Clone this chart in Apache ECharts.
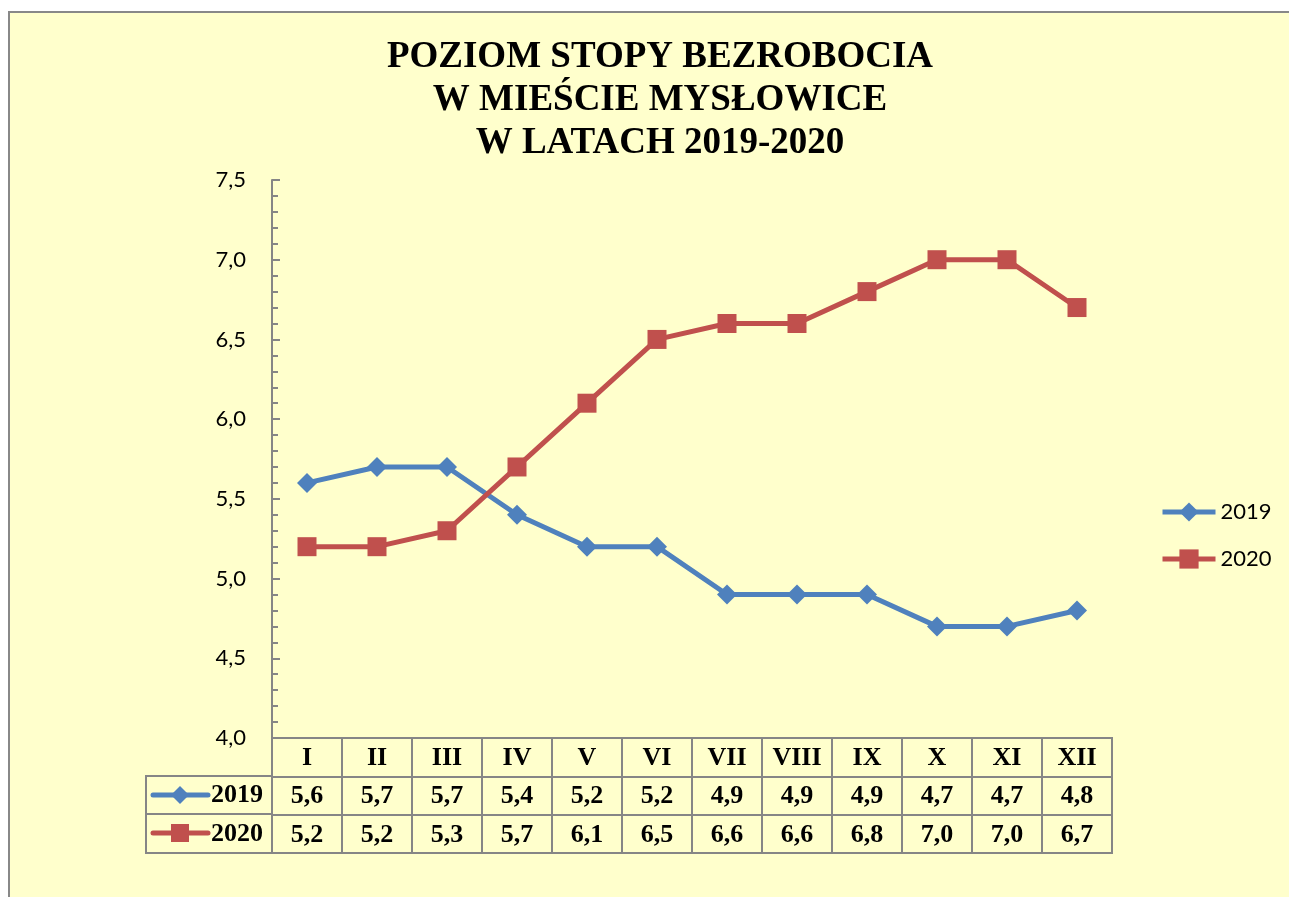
<!DOCTYPE html>
<html>
<head>
<meta charset="utf-8">
<script src="https://cdn.jsdelivr.net/npm/echarts@6/dist/echarts.min.js"></script>
<style>
html,body{margin:0;padding:0;background:#fff;width:1289px;height:897px;overflow:hidden;}
#bg{position:absolute;left:8px;top:11px;width:1300px;height:900px;background:#FFFFCC;border-left:2px solid #888;border-top:2px solid #888;}
#chart{position:absolute;left:0;top:0;width:1289px;height:897px;}
</style>
</head>
<body>
<div id="bg"></div>
<div id="chart"></div>
<script>
const months = ['I','II','III','IV','V','VI','VII','VIII','IX','X','XI','XII'];
const values2019 = [5.6,5.7,5.7,5.4,5.2,5.2,4.9,4.9,4.9,4.7,4.7,4.8];
const values2020 = [5.2,5.2,5.3,5.7,6.1,6.5,6.6,6.6,6.8,7.0,7.0,6.7];
const seriesNames = ['2019','2020'];
const titleText = 'POZIOM STOPY BEZROBOCIA\nW MIEŚCIE MYSŁOWICE\nW LATACH 2019-2020';

const BLUE = '#4F81BD', RED = '#C0504D', GRAY = '#868686';
const SERIF = 'Liberation Serif';
const fmt = v => v.toFixed(1).replace('.', ',');

const tableData = [];
months.forEach((m, i) => {
  tableData.push([i, 0, m]);
  tableData.push([i, 1, fmt(values2019[i])]);
  tableData.push([i, 2, fmt(values2020[i])]);
});

const chart = echarts.init(document.getElementById('chart'), null, {renderer:'canvas'});
chart.setOption({
  backgroundColor: 'transparent',
  animation: false,
  title: {
    text: titleText,
    left: 655, textAlign: 'center', top: 31,
    textStyle: {fontFamily: SERIF, fontWeight: 'bold', fontSize: 37, lineHeight: 43, color: '#000'}
  },
  legend: {
    orient: 'vertical', left: 1160, top: 501, padding: 0,
    itemWidth: 53, itemHeight: 24, itemGap: 25,
    lineStyle: {width: 5},
    textStyle: {fontFamily: 'Lato', fontSize: 22, color: '#000'},
    data: seriesNames
  },
  grid: [
    {left: 272, top: 180, width: 840, height: 558, containLabel: false},
    {left: 272, top: 738, width: 840, height: 115, show: true, borderColor: GRAY, borderWidth: 2, backgroundColor: 'transparent'}
  ],
  xAxis: [
    {type: 'category', gridIndex: 0, data: months, boundaryGap: true,
     axisLine: {show: true, lineStyle: {color: GRAY, width: 2}},
     axisTick: {show: false}, axisLabel: {show: false}, splitLine: {show: false}},
    {type: 'category', gridIndex: 1, data: months, boundaryGap: true,
     axisLine: {show: false}, axisTick: {show: false}, axisLabel: {show: false},
     splitLine: {show: true, lineStyle: {color: GRAY, width: 2}}}
  ],
  yAxis: [
    {type: 'value', gridIndex: 0, min: 4, max: 7.5, interval: 0.5,
     axisLine: {show: true, lineStyle: {color: GRAY, width: 2}},
     axisTick: {show: true, inside: true, length: 8, lineStyle: {color: GRAY, width: 2}},
     minorTick: {show: true, splitNumber: 5, length: 6, lineStyle: {color: GRAY, width: 2}},
     splitLine: {show: false},
     axisLabel: {margin: 26, formatter: v => fmt(v), fontFamily: 'Lato', fontSize: 22, color: '#000'}},
    {type: 'category', gridIndex: 1, data: ['', seriesNames[0], seriesNames[1]], inverse: true,
     axisLine: {show: false}, axisTick: {show: false},
     splitLine: {show: true, lineStyle: {color: GRAY, width: 2}},
     axisLabel: {margin: 9, fontFamily: SERIF, fontWeight: 'bold', fontSize: 26, color: '#000'}}
  ],
  series: [
    {name: seriesNames[0], type: 'line', xAxisIndex: 0, yAxisIndex: 0, data: values2019,
     symbol: 'diamond', symbolSize: 20, color: BLUE,
     lineStyle: {width: 5, color: BLUE}, itemStyle: {color: BLUE}},
    {name: seriesNames[1], type: 'line', xAxisIndex: 0, yAxisIndex: 0, data: values2020,
     symbol: 'rect', symbolSize: 19, color: RED,
     lineStyle: {width: 5, color: RED}, itemStyle: {color: RED}},
    {type: 'custom', xAxisIndex: 1, yAxisIndex: 1, data: tableData, silent: true,
     renderItem: (params, api) => {
       const d = tableData[params.dataIndex];
       const p = api.coord([d[0], d[1]]);
       return {type: 'text', x: p[0], y: p[1] + 1,
         style: {text: d[2], align: 'center', verticalAlign: 'middle',
           fontFamily: SERIF, fontWeight: 'bold', fontSize: 26, fill: '#000'}};
     }}
  ],
  graphic: [
    {type: 'polyline', shape: {points: [[272, 776], [146, 776], [146, 853], [272, 853]]}, style: {stroke: GRAY, lineWidth: 2, fill: null}},
    {type: 'line', shape: {x1: 146, y1: 814, x2: 272, y2: 814}, style: {stroke: GRAY, lineWidth: 2}},
    {type: 'line', shape: {x1: 153, y1: 795, x2: 208, y2: 795}, style: {stroke: BLUE, lineWidth: 5, lineCap: 'round'}},
    {type: 'polygon', shape: {points: [[180, 786], [189, 795], [180, 804], [171, 795]]}, style: {fill: BLUE}},
    {type: 'line', shape: {x1: 153, y1: 833, x2: 208, y2: 833}, style: {stroke: RED, lineWidth: 5, lineCap: 'round'}},
    {type: 'rect', shape: {x: 171, y: 824, width: 18, height: 18}, style: {fill: RED}}
  ]
});
</script>
</body>
</html>
